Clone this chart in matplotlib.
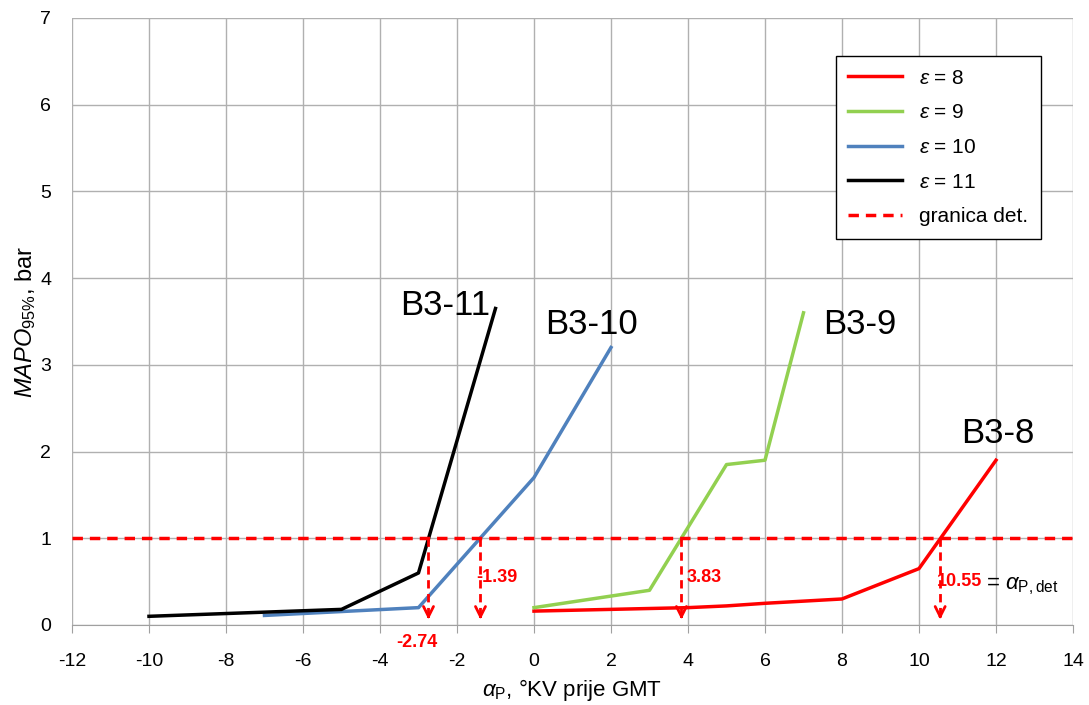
import numpy as np
import matplotlib
matplotlib.use("Agg")
import matplotlib.pyplot as plt

plt.rcParams['font.family'] = ['Liberation Sans', 'DejaVu Sans']
plt.rcParams['mathtext.fontset'] = 'custom'
plt.rcParams['mathtext.rm'] = 'Liberation Sans'
plt.rcParams['mathtext.it'] = 'Liberation Sans:italic'
plt.rcParams['axes.unicode_minus'] = False

# data
x_e8 = [0, 4, 5, 6, 8, 10, 12]
y_e8 = [0.16, 0.2, 0.22, 0.25, 0.3, 0.65, 1.9]
x_e9 = [0, 3, 5, 6, 7]
y_e9 = [0.2, 0.4, 1.85, 1.9, 3.6]
x_e10 = [-7, -3, 0, 2]
y_e10 = [0.11, 0.2, 1.7, 3.2]
x_e11 = [-10, -5, -3, -1]
y_e11 = [0.1, 0.18, 0.6, 3.65]

det_limit = 1.0
det_points = [-2.74, -1.39, 3.83, 10.55]
det_labels = ['-2.74', '-1.39', '3.83', '10.55']
det_label_pos = [(-3.05, -0.2), (-0.96, 0.55), (4.42, 0.55), (11.05, 0.5)]

case_labels = ['B3-11', 'B3-10', 'B3-9', 'B3-8']
case_label_pos = [(-2.3, 3.68), (1.5, 3.46), (8.47, 3.46), (12.05, 2.21)]

fig = plt.figure(figsize=(10.89, 7.05), dpi=100)
ax = fig.add_axes([0.0661, 0.1135, 0.9192, 0.861])

ax.plot(x_e8, y_e8, color='#ff0000', lw=2.5, label=r'$\epsilon$ = 8')
ax.plot(x_e9, y_e9, color='#92d050', lw=2.5, label=r'$\epsilon$ = 9')
ax.plot(x_e10, y_e10, color='#4f81bd', lw=2.5, label=r'$\epsilon$ = 10')
ax.plot(x_e11, y_e11, color='black', lw=2.5, label=r'$\epsilon$ = 11')
ax.axhline(det_limit, color='#ff0000', lw=2.5, ls=(0, (3, 2)), label='granica det.')

for xp in det_points:
    ax.plot([xp, xp], [det_limit, 0.12], color='#ff0000', lw=2, ls=(0, (3, 2)))
    ax.annotate('', xy=(xp, 0.03), xytext=(xp, 0.15),
                arrowprops=dict(arrowstyle='->', color='#ff0000', lw=2, mutation_scale=18))

for lab, (tx, ty) in zip(det_labels, det_label_pos):
    ax.text(tx, ty, lab, color='#ff0000', fontsize=13, fontweight='bold',
            ha='center', va='center', clip_on=False)
ax.text(11.75, 0.45, r'= $\alpha_{\mathrm{P,det}}$', fontsize=16, ha='left', va='center')

for lab, (tx, ty) in zip(case_labels, case_label_pos):
    ax.text(tx, ty, lab, fontsize=25, ha='center', va='center')

ax.set_xlim(-12, 14)
ax.set_ylim(0, 7)
ax.set_xticks(np.arange(-12, 15, 2))
ax.set_yticks(np.arange(0, 8, 1))
ax.grid(True, color='#b0b0b0', lw=1)
ax.set_axisbelow(True)
for s in ['top', 'right', 'left']:
    ax.spines[s].set_visible(False)
ax.spines['bottom'].set_color('#a0a0a0')
ax.tick_params(axis='x', length=6, color='#a0a0a0', labelsize=14, pad=14)
ax.tick_params(axis='y', length=0, labelsize=14, pad=15)

ax.set_xlabel(r'$\alpha_{\mathrm{P}}$, °KV prije GMT', fontsize=16, labelpad=5)
ax.set_ylabel(r'$\mathit{MAPO}_{\mathrm{95\%}}$, bar', fontsize=17)
ax.yaxis.set_label_coords(-0.034, 0.5)

leg = ax.legend(loc='upper left', bbox_to_anchor=(0.763, 0.937), fontsize=15,
                fancybox=False, edgecolor='black', framealpha=1, handlelength=2.6,
                borderpad=0.6, labelspacing=0.75, borderaxespad=0)
leg.get_frame().set_linewidth(1)

fig.savefig('out.png', dpi=100)
